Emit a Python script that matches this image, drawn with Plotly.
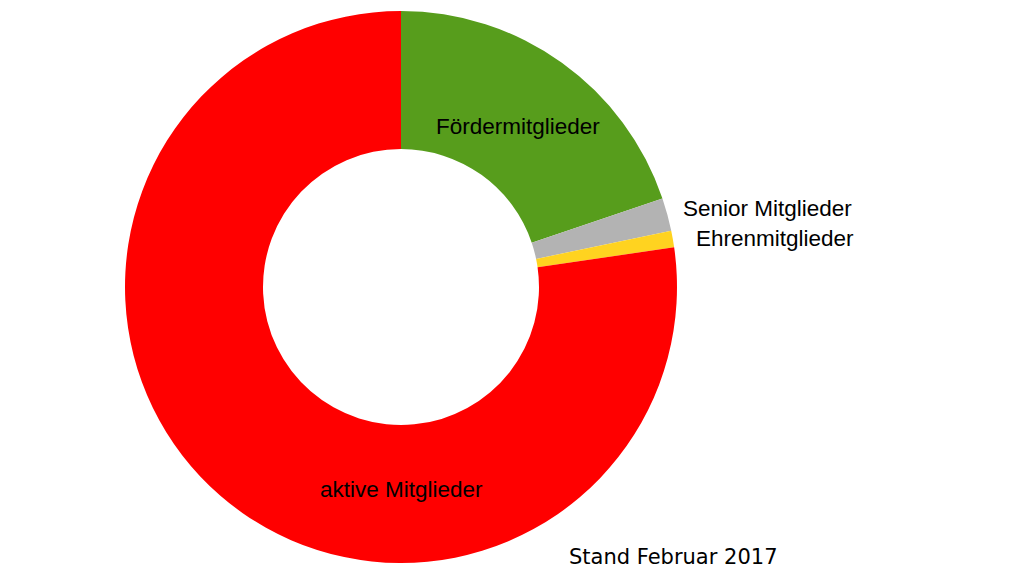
import plotly.graph_objects as go

# Mitgliederstruktur, Stand Februar 2017
labels = ["Fördermitglieder", "Senior Mitglieder", "Ehrenmitglieder", "aktive Mitglieder"]
values = [41, 4, 2, 160]
colors = ["#579d1c", "#b3b3b3", "#ffd320", "#ff0000"]

# label positions (page pixels) as in the original layout
label_pos = [(518, 126), (767, 208), (775, 238), (401, 489)]

W, H = 1024, 576
OFF = 8  # page body margin in the browser


def px_x(x):
    return (x - OFF) / W


def px_y(y):
    return 1 - (y - OFF) / H


fig = go.Figure()
fig.add_trace(go.Pie(
    labels=labels,
    values=values,
    marker=dict(colors=colors, line=dict(width=0)),
    hole=0.5,
    sort=False,
    direction="clockwise",
    rotation=0,
    textinfo="none",
    hoverinfo="label+value+percent",
    domain=dict(x=[px_x(125), px_x(677)], y=[px_y(563), px_y(11)]),
    showlegend=False,
))

for lab, (px, py) in zip(labels, label_pos):
    fig.add_annotation(
        x=px_x(px), y=px_y(py), xref="paper", yref="paper",
        text=lab, showarrow=False, xanchor="center", yanchor="middle",
        font=dict(family="Liberation Sans, Arial, sans-serif", size=22.5, color="#000000"),
    )

fig.add_annotation(
    x=px_x(673), y=px_y(557), xref="paper", yref="paper",
    text="Stand Februar 2017", showarrow=False, xanchor="center", yanchor="middle",
    font=dict(family="DejaVu Sans, sans-serif", size=21, color="#000000"),
)

fig.update_layout(
    width=W, height=H,
    margin=dict(l=0, r=0, t=0, b=0),
    paper_bgcolor="white",
    plot_bgcolor="white",
)

fig.write_html("out.html")
